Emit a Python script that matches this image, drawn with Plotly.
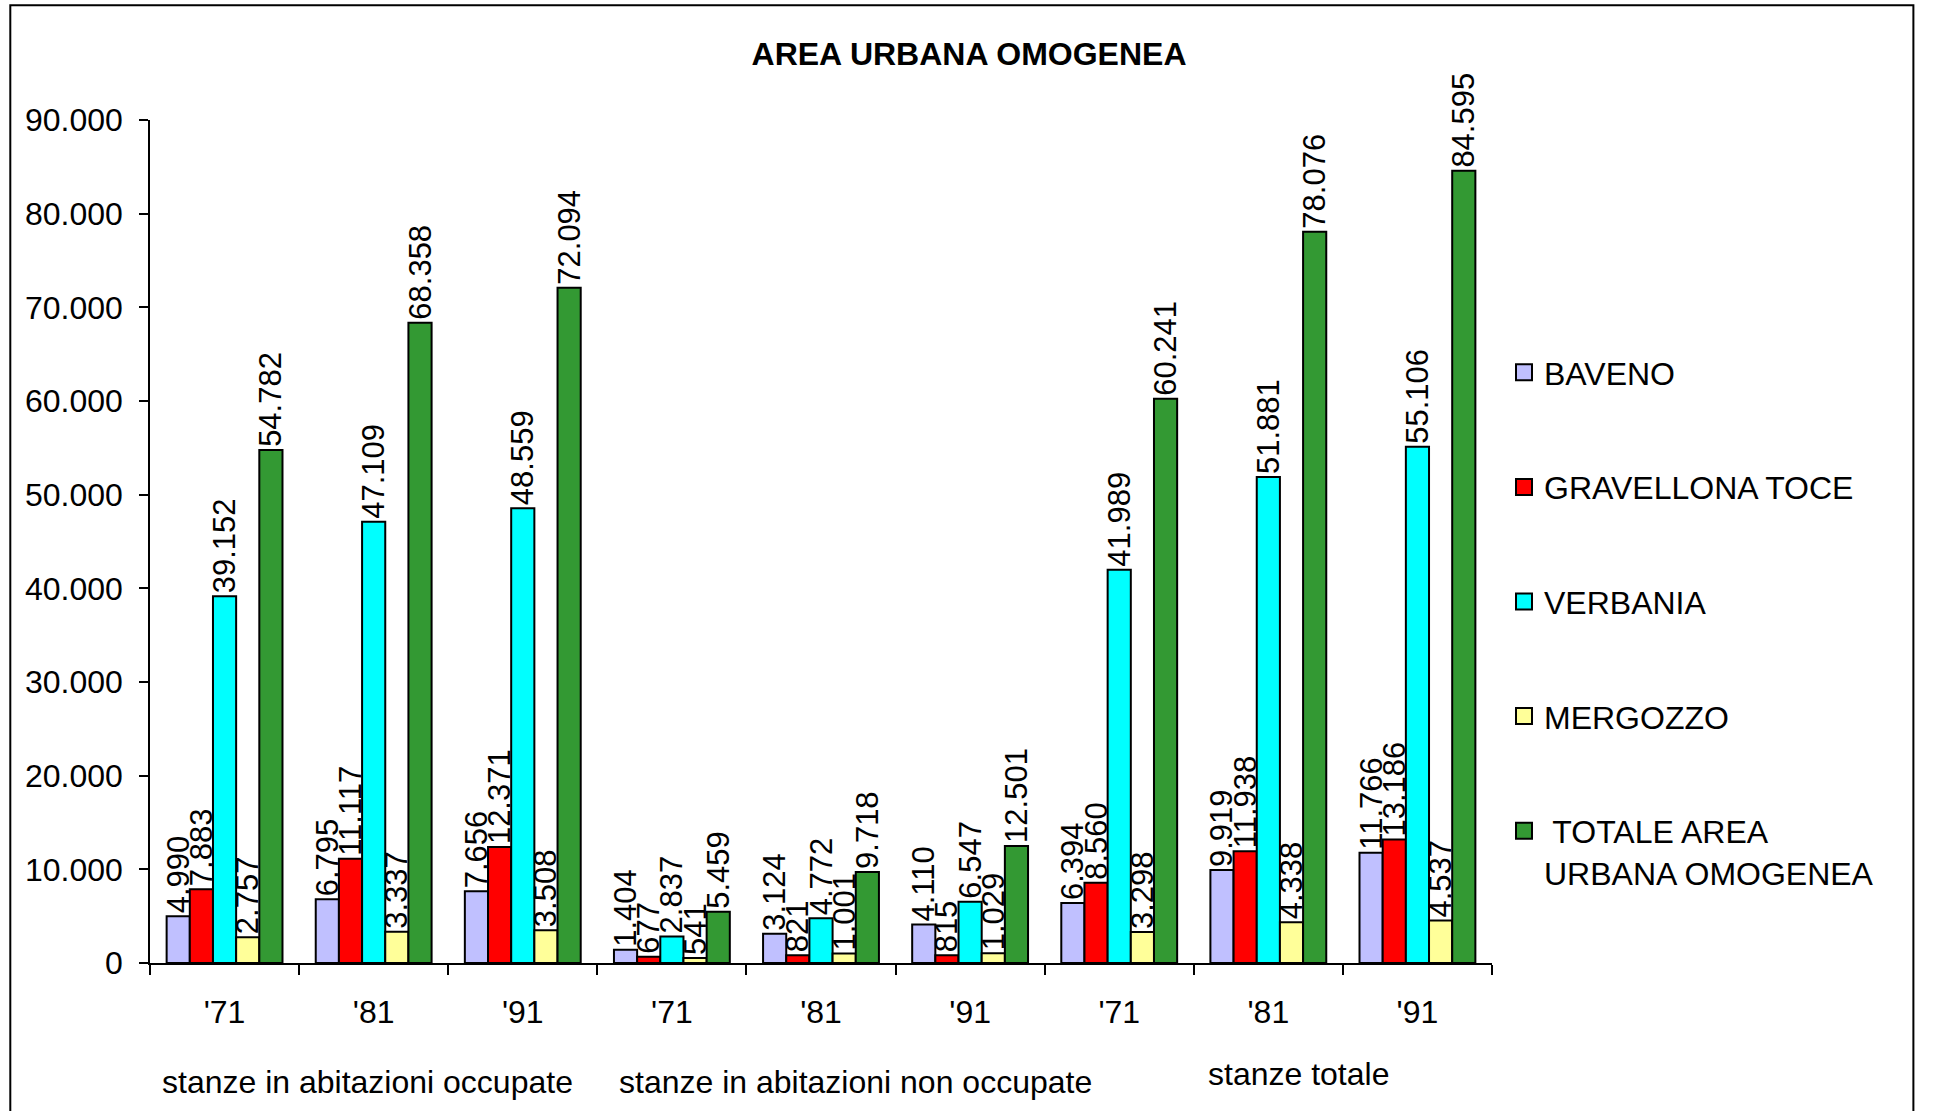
import plotly.graph_objects as go

# anni (etichette asse x) e gruppi di stanze
years = ["'71", "'81", "'91", "'71", "'81", "'91", "'71", "'81", "'91"]
groups = ["stanze in abitazioni occupate", "stanze in abitazioni non occupate", "stanze totale"]
group_x = [0.96, 4.23, 7.2]
x_pos = list(range(len(years)))

# valori per comune
baveno = [4990, 6795, 7656, 1404, 3124, 4110, 6394, 9919, 11766]
gravellona = [7883, 11117, 12371, 677, 821, 815, 8560, 11938, 13186]
verbania = [39152, 47109, 48559, 2837, 4772, 6547, 41989, 51881, 55106]
mergozzo = [2757, 3337, 3508, 541, 1001, 1029, 3298, 4338, 4537]
totale = [54782, 68358, 72094, 5459, 9718, 12501, 60241, 78076, 84595]

names = ["BAVENO", "GRAVELLONA TOCE", "VERBANIA", "MERGOZZO", " TOTALE AREA<br>URBANA OMOGENEA"]
colors = ["#C0C0FF", "#FF0000", "#00FFFF", "#FFFF99", "#339933"]
series = [baveno, gravellona, verbania, mergozzo, totale]

FONT = "Arial, Liberation Sans, sans-serif"
W, H = 1934, 1111

fig = go.Figure()

for name, col, vals in zip(names, colors, series):
    fig.add_trace(go.Bar(
        x=x_pos, y=vals, name=name,
        marker=dict(color=col, line=dict(color="black", width=2)),
        texttemplate="%{y:,}", textposition="outside", textangle=-90,
        textfont=dict(size=31, color="black", family=FONT),
        constraintext="none", cliponaxis=False, showlegend=False,
    ))

# voci di legenda (quadratini)
for i, (name, col) in enumerate(zip(names, colors)):
    fig.add_trace(go.Scatter(
        x=[None], y=[None], mode="markers", name=name,
        marker=dict(symbol="square", size=16, color=col, line=dict(color="black", width=2)),
        legendgroup=f"g{i}", showlegend=True,
    ))

# etichette dei gruppi
for gx, gname in zip(group_x, groups):
    fig.add_annotation(
        x=gx, y=-0.141 if gname != "stanze totale" else -0.132,
        xref="x", yref="paper", text=gname, showarrow=False,
        font=dict(size=32, color="black", family=FONT), yanchor="middle",
    )

# cornice esterna
fig.add_shape(type="rect", xref="paper", yref="paper",
              x0=-0.1041, x1=1.314, y0=-0.3, y1=1.136,
              line=dict(color="black", width=2), fillcolor="rgba(0,0,0,0)")

boundaries = [i - 0.5 for i in range(len(years) + 1)]

fig.update_layout(
    width=W, height=H,
    paper_bgcolor="white", plot_bgcolor="white",
    separators=",.",
    font=dict(family=FONT, size=32, color="black"),
    margin=dict(l=150, r=W - 150 - 1354, t=120, b=H - 120 - 843),
    barmode="group", bargap=0.223, bargroupgap=0,
    title=dict(text="<b>AREA URBANA OMOGENEA</b>", font=dict(size=32, family=FONT, color="black"),
               x=969 / W, xanchor="center", y=1 - 54 / H, yanchor="middle",
               xref="container", yref="container"),
    xaxis=dict(range=[-0.5, 8.5], tickmode="array", tickvals=x_pos, ticktext=years,
               ticks="", showline=True, linecolor="black", linewidth=1.5,
               showgrid=False, zeroline=False, ticklabelstandoff=20,
               tickfont=dict(size=32, family=FONT, color="black"),
               minor=dict(tickmode="array", tickvals=boundaries, ticks="outside",
                          ticklen=10, tickcolor="black", tickwidth=1.5)),
    xaxis2=dict(range=[-0.5, 8.5], overlaying="x", matches="x", anchor="y",
                tickmode="array", tickvals=boundaries, ticks="inside", ticklen=10,
                tickcolor="black", tickwidth=1.5, showticklabels=False,
                showline=False, showgrid=False, zeroline=False),
    yaxis=dict(range=[0, 90000], tickmode="array", tickvals=list(range(0, 90001, 10000)),
               tickformat=",", ticks="outside", ticklen=9, tickcolor="black", tickwidth=1.5,
               showline=True, linecolor="black", linewidth=1.5, showgrid=False, zeroline=False,
               ticklabelstandoff=10, tickfont=dict(size=32, family=FONT, color="black")),
    yaxis2=dict(range=[0, 90000], overlaying="y", matches="y", anchor="x",
                tickmode="array", tickvals=list(range(0, 90001, 10000)),
                ticks="inside", ticklen=9, tickcolor="black", tickwidth=1.5,
                showticklabels=False, showline=False, showgrid=False, zeroline=False),
    legend=dict(xref="container", yref="container", x=1504 / W, xanchor="left",
                y=1 - 345 / H, yanchor="top", font=dict(size=32, family=FONT, color="black"),
                valign="top", tracegroupgap=70, bgcolor="rgba(0,0,0,0)"),
)

# niente margine del body, così la figura parte da (0, 0)
fig.write_html("out.html", config={"displayModeBar": False},
               post_script="document.body.style.margin='0';")
